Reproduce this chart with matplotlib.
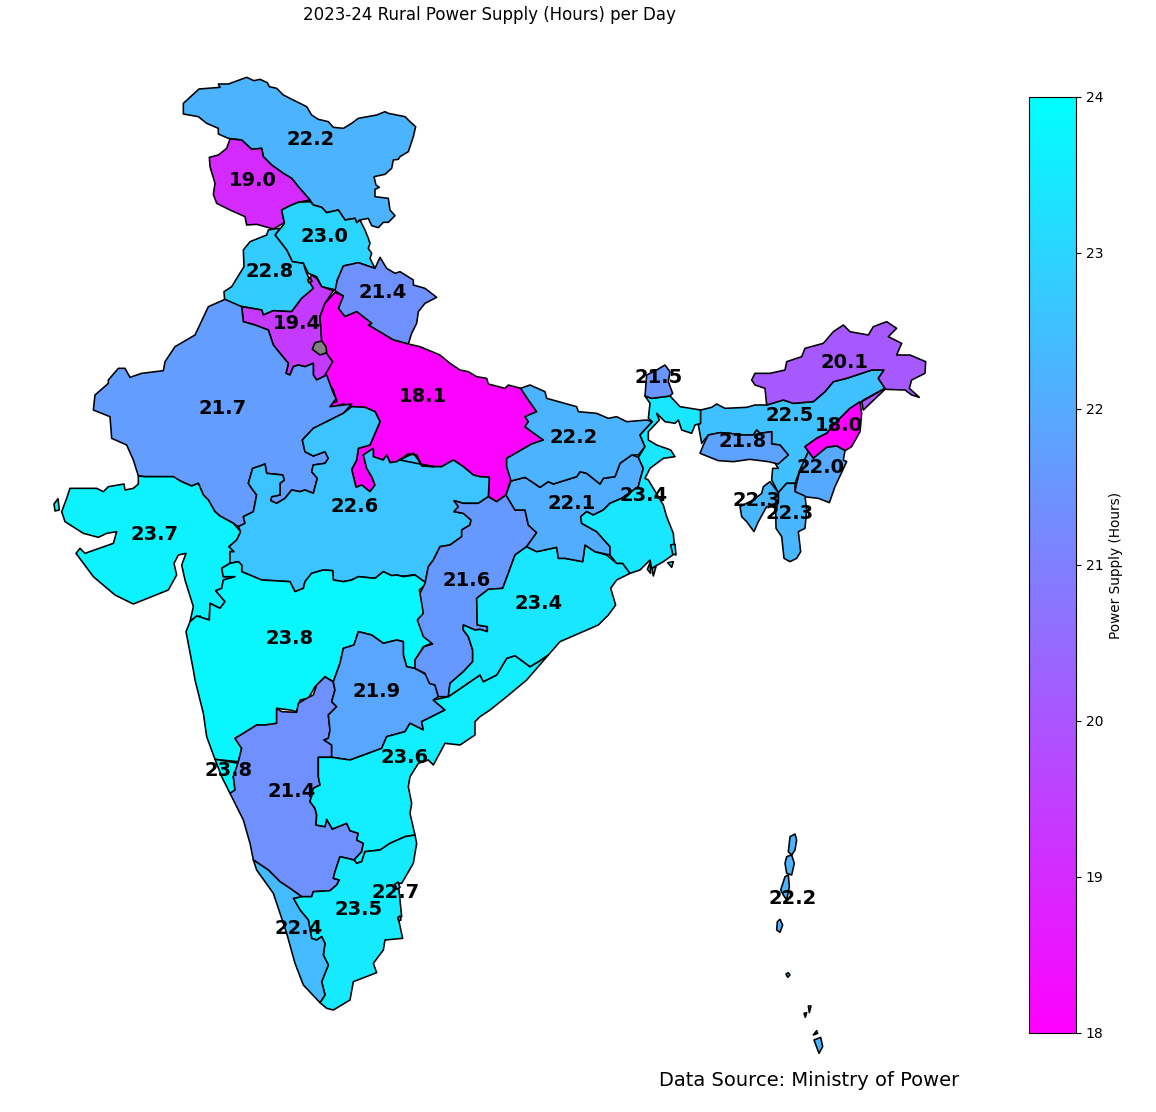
import numpy as np
import matplotlib
matplotlib.use("Agg")
import matplotlib.pyplot as plt
from matplotlib.collections import PolyCollection
from matplotlib.cm import ScalarMappable
from matplotlib.colors import Normalize

TITLE = "2023-24 Rural Power Supply (Hours) per Day"
SOURCE = "Data Source: Ministry of Power"
CBAR_LABEL = "Power Supply (Hours)"

# Outlines, as (x, y) in local map sheets
SHEET_N = (50, 60)
SHEET_W = (50, 380)
SHEET_S = (180, 680)
SHEET_C = (400, 370)
SHEET_E = (630, 310)
SHEET_I = (750, 820)

def sheet(origin, pts):
    return [(origin[0] + x / 3, origin[1] + y / 3) for x, y in pts]

ladakh = sheet(SHEET_N, [(400,130),(447,87),(510,82),(505,72),(535,72),(590,52),(612,62),(630,58),(652,68),(658,80),(680,85),(700,105),(740,125),(770,140),(785,165),(805,178),(835,185),(850,202),(880,205),(905,190),(925,175),(980,165),(1005,155),(1015,160),(1065,170),(1080,185),(1097,200),(1090,230),(1075,275),(1050,290),(1045,298),(1030,300),(1025,325),(1005,343),(972,350),(978,375),(988,382),(975,388),(975,410),(1015,415),(1020,450),(1035,467),(1015,487),(1000,487),(985,503),(965,497),(955,475),(930,480),(920,488),(915,475),(885,480),(865,450),(830,458),(815,442),(790,435),(780,420),(745,380),(725,355),(700,340),(665,315),(640,290),(635,265),(605,268),(575,240),(535,235),(505,222),(505,205),(470,190),(445,170),(400,162)])
jammu = sheet(SHEET_N, [(540,237),(575,240),(605,268),(635,265),(640,290),(665,315),(700,340),(725,355),(745,380),(780,420),(745,427),(725,435),(695,450),(703,488),(670,507),(620,493),(590,495),(585,470),(540,450),(500,430),(490,403),(495,370),(480,320),(478,292),(505,285),(530,265)])
himachal = sheet(SHEET_N, [(695,450),(725,435),(745,427),(780,425),(790,435),(815,442),(830,458),(865,450),(885,480),(915,475),(920,488),(930,480),(945,510),(955,535),(960,550),(955,565),(965,580),(960,595),(975,625),(925,608),(880,618),(862,660),(858,690),(815,680),(800,650),(775,640),(760,610),(727,605),(710,570),(675,525),(700,495),(703,488)])
punjab = sheet(SHEET_N, [(655,510),(670,507),(690,505),(675,525),(710,570),(727,605),(760,610),(768,635),(790,685),(775,700),(755,715),(725,755),(670,752),(640,765),(635,750),(580,740),(525,735),(522,695),(545,680),(582,620),(580,570),(600,545),(650,525)])
haryana = sheet(SHEET_N, [(785,645),(800,655),(815,680),(850,692),(825,730),(810,770),(815,840),(830,880),(848,905),(845,930),(830,945),(800,960),(790,945),(790,910),(765,920),(745,915),(730,920),(720,945),(708,940),(715,910),(690,880),(670,855),(655,810),(615,795),(580,785),(575,740),(635,750),(640,765),(670,752),(725,755),(755,715),(790,685),(775,660)])
delhi = sheet(SHEET_N, [(795,848),(815,843),(828,860),(830,878),(810,885),(787,868)])
chandigarh = sheet(SHEET_N, [(773,658),(782,655),(786,664),(776,668)])
uttarakhand = sheet(SHEET_N, [(880,618),(925,608),(975,625),(990,592),(1010,625),(1035,640),(1050,635),(1090,660),(1090,675),(1125,685),(1160,712),(1125,730),(1105,755),(1100,790),(1085,820),(1075,852),(1030,840),(980,810),(955,795),(965,790),(920,755),(885,770),(865,745),(880,708),(855,692),(862,660)])
uttar_pradesh = (
    sheet(SHEET_N, [(855,697),(880,708),(865,745),(885,770),(920,755),(965,790),(955,795),(980,810),(1030,840),(1075,852),(1110,860),(1170,885),(1200,910)])
    + sheet(SHEET_C, [(180,0),(205,5),(230,20),(260,25),(265,42),(315,55),(325,45),(362,55),(385,90),(410,125),(375,140),(385,155),(375,170),(395,185),(430,210),(395,222),(320,265),(320,290),(333,325),(318,375),(290,395),(265,380),(268,322),(240,320),(220,315),(190,290),(160,270),(125,290),(100,290),(65,285),(55,270),(40,250),(0,270)])
    + sheet(SHEET_W, [(1150,260),(1115,258),(1100,225),(1075,222),(1040,245),(1020,248),(1010,225),(1000,240),(970,230),(970,205),(940,225),(950,265),(965,290),(975,315),(960,335),(935,315),(918,322),(905,268),(920,240),(925,205),(960,195),(975,160),(990,125),(975,95),(945,82),(905,80),(880,72),(840,82),(838,72),(860,65),(850,30),(830,0)])
    + sheet(SHEET_N, [(825,945),(848,905),(830,880),(815,840),(810,770),(825,730)])
)
rajasthan = (
    sheet(SHEET_N, [(525,718),(575,740),(580,785),(615,795),(655,810),(670,855),(690,880),(715,910),(708,940),(720,945),(730,920),(745,915),(765,920),(790,910),(790,945),(800,960),(830,945),(850,1000),(860,1020)])
    + sheet(SHEET_W, [(855,60),(840,80),(905,72),(880,100),(830,125),(790,145),(757,180),(765,215),(790,228),(825,215),(835,235),(825,250),(790,255),(785,275),(802,295),(790,340),(765,330),(750,335),(725,330),(705,355),(680,370),(662,362),(665,350),(690,345),(690,310),(703,300),(698,285),(650,280),(645,252),(630,258),(608,265),(595,310),(605,325),(620,345),(610,395),(580,410),(585,430),(565,440),(550,430),(510,408),(495,395),(475,360),(460,345),(445,310),(425,318),(395,305),(375,295),(370,290),(285,290),(265,288),(250,240),(230,195),(185,175),(180,110),(130,90),(135,45),(175,10),(175,0)])
    + sheet(SHEET_N, [(205,925),(225,925),(240,952),(275,940),(340,932),(345,905),(375,860),(435,825),(475,740)])
)
gujarat = sheet(SHEET_W, [(265,312),(265,288),(285,290),(370,290),(395,305),(425,318),(445,310),(460,345),(475,360),(495,395),(510,408),(550,430),(572,455),(560,480),(537,500),(552,515),(540,515),(540,550),(515,565),(520,590),(555,590),(520,600),(515,625),(497,632),(525,665),(510,685),(480,670),(478,720),(440,708),(420,725),(430,680),(405,600),(395,555),(408,520),(385,525),(372,550),(380,585),(355,630),(250,672),(195,645),(130,590),(78,520),(90,505),(105,520),(190,490),(200,455),(170,460),(145,472),(100,460),(45,425),(35,395),(50,355),(60,325),(78,325),(140,325),(160,335),(175,320),(222,312),(225,330),(250,325)])
diu = sheet(SHEET_W, [(12,372),(24,356),(28,390),(15,393)])
nagar_haveli = sheet(SHEET_W, [(436,715),(450,708),(462,722),(452,733),(438,728)])
madhya_pradesh = (
    sheet(SHEET_W, [(905,80),(945,82),(975,95),(990,125),(975,160),(960,195),(925,205),(920,240),(905,268),(918,322),(935,315),(960,335),(975,315),(965,290),(950,265),(940,225),(970,205),(970,230),(1000,240),(1010,225),(1020,248),(1040,245),(1075,222),(1100,225),(1115,258),(1150,260)])
    + sheet(SHEET_C, [(0,270),(40,250),(55,270),(65,285),(100,290),(125,290),(160,270),(190,290),(220,315),(240,320),(268,322),(265,380),(235,400),(190,400),(162,392),(175,410),(162,425),(190,430),(213,450),(210,465),(185,480),(185,500),(150,525),(120,530),(100,570),(85,590),(75,640),(40,615),(0,620)])
    + sheet(SHEET_W, [(1130,610),(1095,585),(1060,590),(1040,585),(1025,587),(1000,575),(975,595),(925,590),(905,600),(880,605),(850,600),(848,572),(820,570),(785,580),(765,605),(760,625),(735,635),(720,605),(635,600),(575,575),(575,555),(565,545),(540,550),(540,515),(552,515),(537,500),(560,480),(572,455),(565,440),(585,430),(580,410),(610,395),(620,345),(605,325),(595,310),(608,265),(630,258),(645,252),(650,280),(698,285),(703,300),(690,310),(690,345),(665,350),(662,362),(680,370),(705,355),(725,330),(750,335),(765,330),(790,340),(802,295),(785,275),(790,255),(825,250),(835,235),(825,215),(790,228),(765,215),(757,180),(790,145),(830,125),(880,100)])
)
maharashtra = (
    sheet(SHEET_W, [(520,600),(555,590),(520,590),(515,565),(540,550),(565,545),(575,555),(575,575),(635,600),(720,605),(735,635),(760,625),(765,605),(785,580),(820,570),(848,572),(850,600),(880,605),(905,600),(925,590),(975,595),(1000,575),(1025,587),(1040,585),(1060,590),(1095,585),(1130,610),(1108,630),(1120,680),(1118,710),(1105,715),(1125,760),(1145,790),(1120,800),(1095,840),(1095,865),(1070,860),(1060,825),(1060,785),(1040,780),(1000,790),(965,765),(925,755),(912,795),(880,805),(870,850),(850,905),(825,890),(795,920),(775,955),(750,960),(740,995),(720,990),(680,985),(680,1020)])
    + sheet(SHEET_S, [(290,130),(255,135),(230,135),(190,160),(165,175),(185,205),(175,245),(105,238),(80,170),(70,100),(45,0)])
    + sheet(SHEET_W, [(430,870),(408,755),(420,725),(440,708),(478,720),(480,670),(510,685),(525,665),(497,632),(515,625)])
)
goa = sheet(SHEET_S, [(105,238),(175,250),(160,290),(165,330),(150,340),(125,290)])
karnataka = sheet(SHEET_S, [(459,5),(465,30),(455,65),(470,80),(445,105),(450,150),(445,175),(432,180),(455,195),(455,232),(415,232),(415,290),(420,315),(400,325),(390,365),(405,385),(410,405),(408,435),(435,440),(440,418),(457,447),(500,430),(510,452),(535,460),(530,480),(550,490),(545,515),(522,540),(480,530),(465,575),(460,595),(478,600),(470,615),(450,632),(400,635),(395,650),(365,650),(330,625),(300,605),(265,570),(220,540),(210,490),(190,420),(150,340),(165,330),(160,290),(175,245),(185,205),(165,175),(190,160),(230,135),(255,135),(290,130),(290,85),(305,95),(350,97),(355,70),(380,55),(400,45),(410,15),(435,-9)])
telangana = (
    sheet(SHEET_W, [(850,905),(870,850),(880,805),(912,795),(925,755),(965,765),(1000,790),(1040,780),(1060,785),(1060,825),(1070,860),(1095,865),(1130,885),(1140,910),(1155,915)])
    + sheet(SHEET_S, [(775,50),(760,60),(795,90),(755,110),(725,125),(730,150),(690,130),(675,155),(620,170),(605,205),(565,220),(510,240),(455,232),(455,195),(432,180),(445,175),(450,150),(445,105),(470,80),(455,65),(465,30)])
)
andhra = (
    sheet(SHEET_C, [(100,990),(145,980),(240,915),(250,935),(290,915),(320,865),(345,857),(390,890),(415,875),(445,855),(380,930),(320,980),(270,1020)])
    + sheet(SHEET_S, [(900,110),(885,125),(885,165),(840,195),(795,190),(760,255),(745,240),(715,250),(690,290),(685,320),(695,370),(690,400),(705,465),(675,470),(630,490),(600,510),(555,515),(545,545),(530,550),(522,540),(545,515),(550,490),(530,480),(535,460),(510,452),(500,430),(457,447),(440,418),(435,440),(408,435),(410,405),(405,385),(390,365),(400,325),(420,315),(415,290),(415,232),(455,232),(510,240),(565,220),(605,205),(620,170),(675,155),(690,130),(730,150),(725,125),(755,110),(795,90),(760,60)])
)
tamil_nadu = sheet(SHEET_S, [(705,465),(710,490),(700,550),(665,610),(655,610),(660,660),(665,710),(655,715),(668,775),(615,780),(610,810),(580,850),(590,878),(520,905),(510,960),(460,990),(440,985),(420,968),(435,945),(425,905),(445,855),(430,825),(435,790),(425,770),(410,780),(395,775),(385,720),(360,690),(340,655),(365,650),(395,650),(400,635),(450,632),(470,615),(478,600),(460,595),(465,575),(480,530),(522,540),(530,550),(545,545),(555,515),(600,510),(630,490),(675,470)])
kerala = sheet(SHEET_S, [(220,540),(265,570),(300,605),(330,625),(365,650),(340,655),(360,690),(385,720),(395,775),(410,780),(425,770),(435,790),(430,825),(445,855),(425,905),(435,945),(420,968),(370,915),(345,850),(320,760),(280,640),(230,570)])
puducherry_a = sheet(SHEET_S, [(645,612),(654,606),(660,622),(650,628)])
puducherry_b = sheet(SHEET_S, [(653,712),(660,708),(663,720),(656,722)])
chhattisgarh = sheet(SHEET_C, [(162,392),(190,400),(235,400),(265,380),(290,395),(318,375),(345,420),(375,420),(385,465),(410,488),(380,530),(345,555),(325,610),(308,655),(265,658),(230,685),(232,765),(262,770),(262,785),(240,778),(225,780),(190,765),(190,780),(205,800),(218,840),(218,875),(190,905),(150,940),(145,980),(115,980),(105,945),(88,940),(75,910),(45,895),(45,870),(72,830),(98,822),(70,800),(52,750),(70,730),(60,670),(75,640),(85,590),(100,570),(120,530),(150,525),(185,500),(185,480),(210,465),(213,450),(190,430),(162,425),(175,410)])
odisha = sheet(SHEET_C, [(380,530),(410,545),(470,532),(475,565),(495,565),(548,575),(555,525),(585,545),(620,555),(650,580),(668,580),(690,610),(650,630),(632,655),(647,705),(625,735),(595,765),(480,815),(445,855),(415,875),(390,890),(345,857),(320,865),(290,915),(250,935),(240,915),(145,980),(150,940),(190,905),(218,875),(218,840),(205,800),(190,780),(190,765),(225,780),(240,778),(262,785),(262,770),(232,765),(230,685),(265,658),(308,655),(325,610),(345,555)])
jharkhand = sheet(SHEET_C, [(333,333),(375,322),(395,335),(420,352),(445,335),(460,342),(530,320),(540,305),(560,310),(585,330),(600,342),(610,325),(645,320),(660,280),(695,255),(715,262),(730,295),(720,330),(715,350),(665,385),(630,400),(610,420),(580,435),(560,425),(542,440),(545,460),(590,485),(630,530),(630,555),(585,545),(555,525),(548,575),(495,565),(475,565),(470,532),(410,545),(380,530),(410,488),(385,465),(375,420),(345,420),(318,375)])
bihar = sheet(SHEET_C, [(362,55),(390,45),(435,65),(440,85),(530,110),(535,125),(590,130),(625,145),(650,140),(680,155),(740,150),(757,155),(720,195),(735,230),(715,255),(695,255),(660,280),(645,320),(610,325),(600,342),(585,330),(560,310),(540,305),(530,320),(460,342),(445,335),(420,352),(395,335),(375,322),(333,333),(320,290),(320,265),(395,222),(430,210),(395,185),(375,170),(385,155),(375,140),(410,125),(385,90)])
west_bengal = sheet(SHEET_C, [(735,78),(755,85),(810,78),(840,110),(902,120),(902,160),(885,165),(875,190),(845,180),(835,150),(825,160),(795,155),(770,130),(778,150),(745,185),(745,210),(770,225),(812,240),(825,260),(790,265),(750,295),(735,325),(745,330),(790,405),(800,440),(820,490),(825,550),(790,575),(755,595),(750,570),(720,600),(690,610),(668,580),(650,580),(630,555),(630,530),(590,485),(545,460),(542,440),(560,425),(580,435),(610,420),(630,400),(665,385),(715,350),(720,330),(730,295),(715,262),(735,230),(720,195),(757,155),(745,145),(750,100)])
bengal_isle_a = sheet(SHEET_C, [(742,598),(750,578),(752,610)])
bengal_isle_b = sheet(SHEET_C, [(756,595),(768,590),(760,618)])
bengal_isle_c = sheet(SHEET_C, [(803,578),(820,575),(815,592)])
bengal_isle_d = sheet(SHEET_C, [(812,525),(825,522),(828,555),(818,552)])
sikkim = sheet(SHEET_E, [(50,195),(80,180),(105,165),(120,185),(115,215),(128,250),(120,258),(65,265),(45,258)])
assam = sheet(SHEET_E, [(212,300),(245,292),(260,282),(285,295),(350,292),(375,285),(410,285),(460,270),(490,280),(550,275),(585,245),(610,215),(650,205),(725,180),(762,180),(745,205),(765,235),(700,270),(695,275),(660,295),(620,335),(590,370),(560,385),(525,410),(535,425),(510,480),(495,520),(470,520),(445,548),(425,510),(428,475),(445,475),(435,460),(475,435),(450,405),(425,402),(425,365),(390,370),(380,360),(370,375),(330,375),(300,370),(270,368),(235,375),(215,400),(205,345),(212,340)])
meghalaya = sheet(SHEET_E, [(235,375),(270,368),(300,370),(330,375),(370,375),(380,360),(390,370),(425,365),(425,402),(450,405),(475,435),(445,462),(415,455),(360,448),(310,455),(265,452),(210,430),(220,405)])
arunachal = sheet(SHEET_E, [(365,210),(375,190),(420,190),(465,180),(470,155),(515,140),(525,115),(580,100),(610,65),(640,45),(660,65),(715,75),(730,50),(770,35),(800,55),(775,80),(815,100),(800,135),(840,135),(887,155),(885,190),(845,210),(838,235),(868,262),(845,255),(825,240),(765,238),(700,300),(695,275),(765,235),(745,205),(762,180),(725,180),(650,205),(610,215),(585,245),(550,275),(490,280),(460,270),(410,285),(405,235),(375,225)])
nagaland = sheet(SHEET_E, [(690,275),(695,310),(690,365),(665,410),(645,422),(620,408),(590,412),(550,445),(525,410),(560,385),(590,370),(620,335),(660,295)])
manipur = sheet(SHEET_E, [(550,445),(590,412),(620,408),(645,422),(640,450),(650,455),(615,530),(598,578),(565,565),(520,560),(495,545),(500,520),(510,480),(535,425)])
mizoram = sheet(SHEET_E, [(445,548),(470,520),(495,520),(495,545),(525,558),(530,600),(525,655),(505,665),(512,725),(500,745),(480,755),(462,745),(455,680),(438,655),(437,600),(445,575)])
tripura = sheet(SHEET_E, [(330,590),(370,570),(395,550),(400,530),(420,515),(445,548),(445,575),(430,590),(410,590),(385,635),(372,665),(350,635),(335,620)])
andaman = [
    sheet(SHEET_I, p) for p in [
        [(120,50),(135,42),(140,60),(135,90),(125,105),(115,95)],
        [(110,110),(125,105),(133,130),(125,165),(110,160),(105,130)],
        [(105,170),(115,165),(118,200),(110,240),(100,225),(92,210)],
        [(82,305),(90,298),(98,315),(90,337),(80,330)],
        [(108,462),(115,458),(120,465),(113,472)],
        [(175,558),(183,558),(178,578)],
        [(162,580),(170,578),(166,592)],
        [(190,645),(200,632),(203,640)],
        [(192,660),(212,652),(218,680),(207,700)],
    ]
]

STATE_NAMES = ["Ladakh","Jammu & Kashmir","Himachal Pradesh","Punjab","Haryana","Uttarakhand","Uttar Pradesh","Rajasthan","Gujarat","Madhya Pradesh","Maharashtra","Goa","Karnataka","Telangana","Andhra Pradesh","Tamil Nadu","Kerala","Chhattisgarh","Odisha","Jharkhand","Bihar","West Bengal","Sikkim","Assam","Meghalaya","Arunachal Pradesh","Nagaland","Manipur","Mizoram","Tripura","Puducherry","Andaman & Nicobar"]
HOURS = [22.2,19.0,23.0,22.8,19.4,21.4,18.1,21.7,23.7,22.6,23.8,23.8,21.4,21.9,23.6,23.5,22.4,21.6,23.4,22.1,22.2,23.4,21.5,22.5,21.8,20.1,18.0,22.0,22.3,22.3,22.7,22.2]
OUTLINES = [[ladakh],[jammu],[himachal],[punjab],[haryana],[uttarakhand],[uttar_pradesh],[rajasthan],[gujarat,diu,nagar_haveli],[madhya_pradesh],[maharashtra],[goa],[karnataka],[telangana],[andhra],[tamil_nadu],[kerala],[chhattisgarh],[odisha],[jharkhand],[bihar],[west_bengal,bengal_isle_a,bengal_isle_b,bengal_isle_c,bengal_isle_d],[sikkim],[assam],[meghalaya],[arunachal],[nagaland],[manipur],[mizoram],[tripura],[puducherry_a,puducherry_b],andaman]
LABEL_X = [311,253,324,270,297,383,423,223,155,355,290,229,292,377,405,359,299,467,539,572,574,644,659,790,743,845,839,821,790,757,396,793]
LABEL_Y = [139.5,180.5,236.5,271.5,323.5,292.5,396.5,408.5,534.5,506.5,638.5,770.5,791.5,691.5,757.5,909.5,928.5,580.5,603.5,495.5,437.5,495.5,377.5,415.5,441.5,362.5,425.5,467.5,513.5,500.5,892.5,898.5]
LABEL_Y[19] = 503.5

MISSING_OUTLINES = [delhi, chandigarh]
VMIN, VMAX = 18, 24
CBAR_TICKS = [18, 19, 20, 21, 22, 23, 24]

W, H = 1156, 1112
fig = plt.figure(figsize=(W / 100, H / 100), dpi=100, facecolor="white")
TOP = 29
ax = fig.add_axes([0, 0, 978 / W, (H - TOP) / H])
ax.set_xlim(0, 978)
ax.set_ylim(H, TOP)
ax.axis("off")

cmap = plt.get_cmap("cool_r")
norm = Normalize(VMIN, VMAX)
polys, vals = [], []
for value, parts in zip(HOURS, OUTLINES):
    for part in parts:
        polys.append(part)
        vals.append(value)
coll = PolyCollection(polys, array=np.array(vals), cmap=cmap, norm=norm,
                      edgecolors="black", linewidths=1.15, joinstyle="round")
ax.add_collection(coll)
ax.add_collection(PolyCollection(MISSING_OUTLINES, facecolors="grey",
                                 edgecolors="black", linewidths=1.15))

for x, y, value in zip(LABEL_X, LABEL_Y, HOURS):
    ax.text(x, y, f"{value:.1f}", ha="center", va="center",
            fontsize=14, fontweight="bold", color="black")

ax.set_title(TITLE, fontsize=12, pad=6.3)
ax.text(809, 1080, SOURCE, ha="center", va="center", fontsize=14)

cax = fig.add_axes([1029 / W, 1 - 1033 / H, 47 / W, 936 / H])
sm = ScalarMappable(norm=norm, cmap=cmap)
cb = fig.colorbar(sm, cax=cax, ticks=CBAR_TICKS)
cb.ax.tick_params(labelsize=10, length=3.5, width=0.8)
cb.set_label(CBAR_LABEL, fontsize=9.8, labelpad=4)

fig.savefig("out.png", dpi=100)
